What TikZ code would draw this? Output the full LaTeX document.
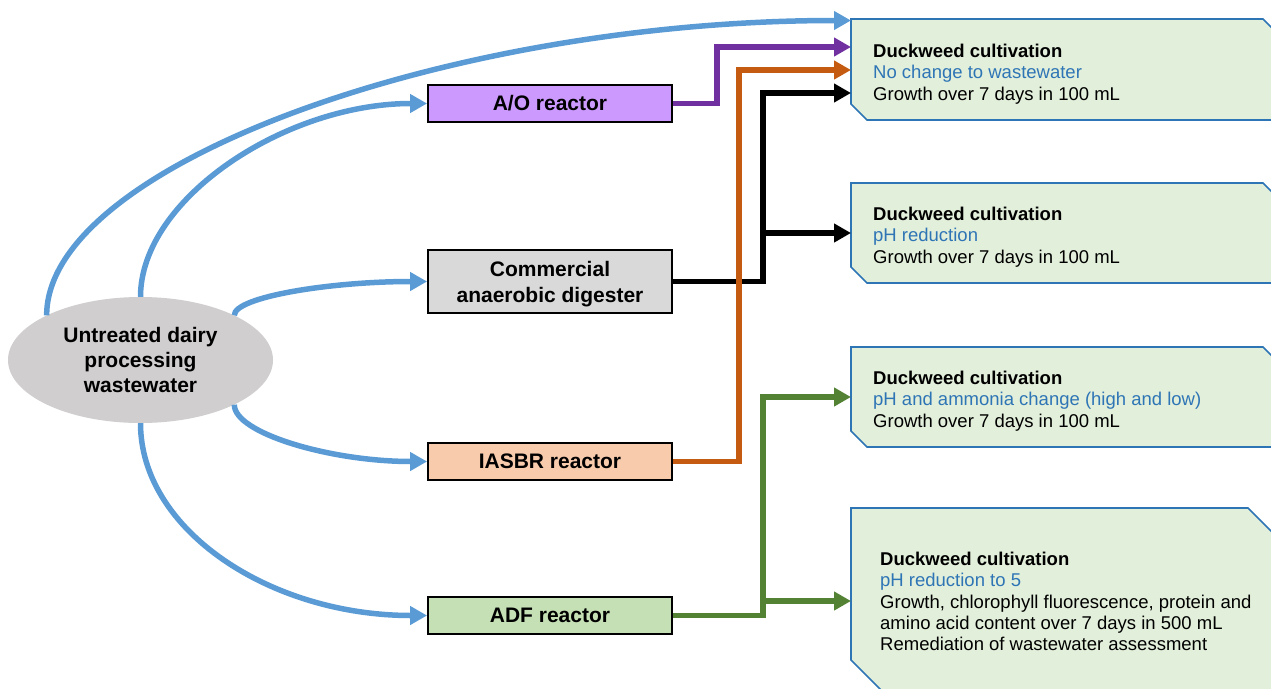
\documentclass[tikz,border=0pt]{standalone}
\usepackage{fontspec}
\setmainfont{Liberation Sans}
\usetikzlibrary{arrows.meta,shapes.geometric,calc,backgrounds}
\definecolor{cblue}{HTML}{5B9BD5}
\definecolor{cpur}{HTML}{7030A0}
\definecolor{cora}{HTML}{C55A11}
\definecolor{cgrn}{HTML}{548235}
\definecolor{cao}{HTML}{CC99FF}
\definecolor{ccad}{HTML}{D9D9D9}
\definecolor{cias}{HTML}{F8CBAD}
\definecolor{cadf}{HTML}{C5E0B4}
\definecolor{cell}{HTML}{D0CECE}
\definecolor{resfill}{HTML}{E2EFDA}
\definecolor{resdraw}{HTML}{2E75B6}
\definecolor{ctxt}{HTML}{2E75B6}
\begin{document}
\begin{tikzpicture}[x=1pt,y=-1pt,
  midbox/.style={draw=black, line width=1.8pt, minimum width=244pt, minimum height=37pt,
    inner sep=0pt, font=\fontsize{21}{26}\selectfont\bfseries, align=center},
  resbox/.style={inner sep=0pt, outer sep=0pt},
  resline/.style={draw=resdraw, line width=1.6pt, fill=resfill},
  restext/.style={anchor=west, align=left, inner sep=0pt, font=\fontsize{18.5}{21.3}\selectfont},
  conn/.style={line width=5.5pt, -{Triangle[length=17pt,width=18pt]}}
]
\path[use as bounding box] (0,0) rectangle (1271,688);
\clip (0,0) rectangle (1271,688);

% source
\node[ellipse, fill=cell, minimum width=265pt, minimum height=126pt, inner sep=0pt,
  align=center, font=\fontsize{21}{25}\selectfont\bfseries] (src) at (140.5,360)
  {Untreated dairy\\processing\\wastewater};

% reactors
\node[midbox, fill=cao] (ao) at (550,103.5) {A/O reactor};
\node[midbox, fill=ccad, minimum height=63pt] (cad) at (550,281.5)
  {\rule{0pt}{21pt}Commercial\\anaerobic digester};
\node[midbox, fill=cias] (ias) at (550,461.5) {IASBR reactor};
\node[midbox, fill=cadf] (adf) at (550,615.5) {ADF reactor};

% result boxes
\node[resbox, minimum width=428pt, minimum height=101pt] (r1) at (1065,69.5) {};
\node[resbox, minimum width=428pt, minimum height=100pt] (r2) at (1065,233) {};
\node[resbox, minimum width=428pt, minimum height=100pt] (r3) at (1065,397) {};
\node[resbox, minimum width=427pt, minimum height=182pt] (r4) at (1064.5,599) {};
\begin{scope}[on background layer]
\foreach \n/\s in {r1/16,r2/16,r3/16,r4/30}{
  \draw[resline] (\n.north west) -- ([xshift=-\s pt]\n.north east) -- ([yshift=-\s pt]\n.north east)
    -- (\n.south east) -- ([xshift=\s pt]\n.south west) -- ([yshift=\s pt]\n.south west) -- cycle;
}
\end{scope}

\node[restext] (t1) at (873,74) {\textbf{Duckweed cultivation}\\\textcolor{ctxt}{No change to wastewater}\\Growth over 7 days in 100 mL};
\node[restext] (t2) at (873,237) {\textbf{Duckweed cultivation}\\\textcolor{ctxt}{pH reduction}\\Growth over 7 days in 100 mL};
\node[restext] (t3) at (873,401) {\textbf{Duckweed cultivation}\\\textcolor{ctxt}{pH and ammonia change (high and low)}\\Growth over 7 days in 100 mL};
\node[restext] (t4) at (880,601.5) {\textbf{Duckweed cultivation}\\\textcolor{ctxt}{pH reduction to 5}\\Growth, chlorophyll fluorescence, protein and\\amino acid content over 7 days in 500 mL\\Remediation of wastewater assessment};

% blue curved connectors
\draw[conn, cblue] (src.north west) .. controls (46.8,166) and (447,20.5) .. ([yshift=-1.5pt]r1.north west);
\draw[conn, cblue] (src.north) .. controls (140.5,199) and (285,103.5) .. (ao.west);
\draw[conn, cblue] (src.north east) .. controls (234,297) and (330,281.5) .. (cad.west);
\draw[conn, cblue] (src.south east) .. controls (234,433) and (330,461.5) .. (ias.west);
\draw[conn, cblue] (src.south) .. controls (140.5,530) and (270,615.5) .. (adf.west);

% orthogonal connectors
\coordinate (bj) at ($(cad.east)+(90,0)$);
\draw[conn, black] (cad.east) -- (bj) |- ([yshift=-23.5pt]r1.west);
\draw[conn, black] (bj |- r2.west) -- (r2.west);
\coordinate (gj) at ($(adf.east)+(90,0)$);
\coordinate (g4) at ([yshift=-2pt]r4.west);
\draw[conn, cgrn] (adf.east) -- (gj) |- (r3.west);
\draw[conn, cgrn] (gj |- g4) -- (g4);
\draw[conn, cpur] (ao.east) -- ++(44,0) |- ([yshift=22.5pt]r1.west);
\draw[conn, cora] (ias.east) -- ++(66,0) |- ([yshift=-0.5pt]r1.west);
\end{tikzpicture}
\end{document}
